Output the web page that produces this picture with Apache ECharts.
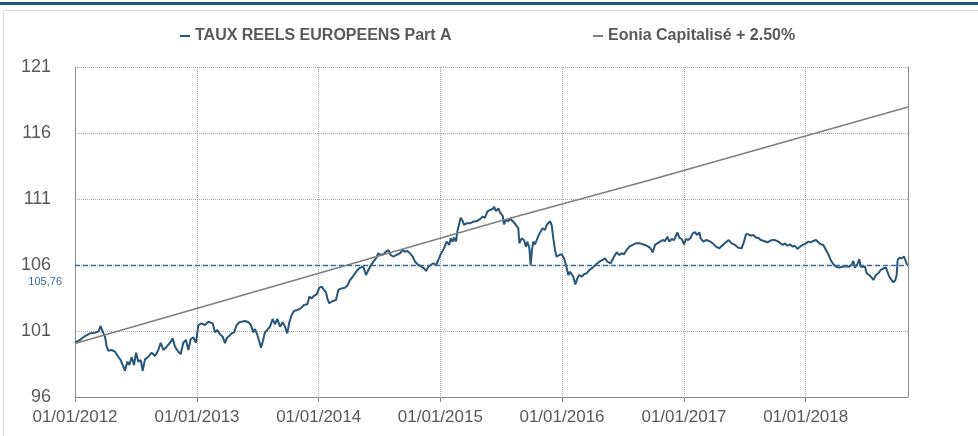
<!DOCTYPE html>
<html><head><meta charset="utf-8">
<script src="https://cdn.jsdelivr.net/npm/echarts@6/dist/echarts.min.js"></script>
<style>html,body{margin:0;padding:0;background:#fff}#c{width:978px;height:436px}</style>
</head><body><div id="c"></div>
<script>
// x = days since 01/01/2012, y = value
const startDate = Date.UTC(2012, 0, 1);
const endDay = 2499;
const seriesNames = ['TAUX REELS EUROPEENS Part A', 'Eonia Capitalisé + 2.50%'];
const refLevel = 105.76;
const yTicksMin = 95.76, yTicksMax = 120.76, yStep = 5;

const fund2012 = [[0,99.87],[15,100.08],[30,100.38],[45,100.58],[60,100.63],[70,100.71],[77,101.14],[83,100.71],[90,100.33],[95,99.57],[100,99.27],[110,99.32],[120,99.19],[130,98.81],[137,98.56],[143,98.51],[150,97.75],[157,98.44],[163,98.18],[170,98.76],[177,98.18],[183,99.12],[190,98.44],[197,98.56],[203,97.75],[210,98.61],[220,98.81],[230,99.12],[240,98.87],[250,99.32],[257,99.87],[265,99.32],[275,99.57],[285,99.87],[293,100.20],[300,99.57],[310,99.19],[317,99.02],[325,99.87],[333,100.08],[340,99.32],[347,100.13],[355,100.28],[363,99.87]];
const fund2013 = [[370,101.21],[380,101.34],[390,101.21],[400,101.46],[405,101.46],[413,101.34],[420,100.66],[427,100.84],[435,100.51],[443,100.33],[450,99.83],[455,100.20],[463,100.40],[470,100.58],[477,100.66],[485,101.21],[493,101.42],[500,101.46],[510,101.52],[520,101.42],[527,101.26],[535,100.66],[540,100.91],[547,100.46],[553,99.95],[558,99.50],[563,99.95],[570,100.66],[577,100.84],[585,101.09],[593,101.67],[600,101.26],[607,101.67],[615,101.09],[623,101.42],[630,101.09],[637,100.58],[643,101.42],[650,101.97],[657,102.28],[667,102.35],[677,102.48],[687,102.73],[697,102.78],[703,103.36],[710,103.23],[717,103.43],[725,103.54]];
const fund2014 = [[733,104.04],[740,104.12],[747,103.87],[753,103.69],[757,103.23],[763,102.86],[773,103.03],[783,103.11],[790,103.87],[800,103.99],[810,104.04],[817,104.19],[825,104.62],[833,104.87],[840,105.13],[847,105.38],[855,105.56],[865,105.63],[873,105.00],[880,105.38],[887,105.71],[895,106.01],[903,106.27],[910,106.65],[917,106.52],[925,106.57],[933,106.77],[940,106.90],[947,106.52],[955,106.39],[965,106.52],[975,106.65],[983,106.90],[990,106.77],[997,106.82],[1005,106.65],[1013,106.39],[1020,106.01],[1030,105.76],[1040,105.63],[1047,105.51],[1053,105.31],[1060,105.63],[1067,105.76],[1075,105.89],[1083,105.76],[1090,106.14]];
const fund2015 = [[1097,106.57],[1103,106.65],[1107,107.02],[1115,107.53],[1123,107.28],[1127,107.78],[1133,107.53],[1137,107.83],[1143,107.53],[1147,108.29],[1153,108.92],[1157,109.34],[1163,109.09],[1167,108.79],[1175,108.92],[1185,108.92],[1195,109.04],[1205,109.09],[1215,109.24],[1223,109.42],[1230,109.34],[1237,109.80],[1245,109.93],[1253,110.00],[1257,110.18],[1263,109.85],[1270,110.05],[1275,109.75],[1283,109.49],[1287,108.84],[1293,109.17],[1300,109.09],[1307,109.24],[1315,109.04],[1323,108.79],[1330,108.54],[1333,107.40],[1340,107.78],[1347,107.65],[1353,107.15],[1357,107.53],[1363,107.07],[1367,105.76],[1371,106.90],[1375,107.53],[1380,107.33],[1385,107.22],[1391,108.03],[1397,108.29],[1403,108.54],[1410,108.41],[1415,108.79],[1421,108.92],[1425,109.09],[1430,108.79],[1435,107.78],[1440,106.90],[1445,106.39],[1453,106.52]];
const fund2016 = [[1460,106.57],[1467,106.27],[1473,105.76],[1480,105.00],[1485,105.25],[1490,105.06],[1495,104.87],[1501,104.29],[1507,104.75],[1513,105.00],[1520,104.87],[1527,105.06],[1535,105.13],[1543,105.38],[1553,105.56],[1563,105.81],[1573,106.01],[1583,106.14],[1590,106.27],[1597,106.01],[1607,105.89],[1617,106.39],[1625,106.72],[1633,106.52],[1640,106.65],[1647,106.57],[1655,106.90],[1663,107.15],[1673,107.28],[1683,107.40],[1695,107.40],[1700,107.38],[1710,107.28],[1720,107.15],[1727,107.02],[1733,106.72],[1740,107.28],[1747,107.40],[1755,107.53],[1763,107.65],[1770,107.58],[1777,107.90],[1783,107.53],[1790,107.73],[1797,107.65],[1803,107.98],[1807,108.24],[1813,107.83]];
const fund2017 = [[1820,107.73],[1827,107.33],[1833,107.73],[1840,107.65],[1847,107.83],[1853,108.16],[1860,108.24],[1867,108.03],[1873,108.24],[1877,107.78],[1885,107.53],[1893,107.65],[1903,107.58],[1913,107.40],[1923,107.15],[1933,107.02],[1943,107.28],[1953,107.48],[1961,107.65],[1970,107.40],[1980,107.28],[1990,107.07],[2000,107.02],[2007,107.53],[2013,108.09],[2020,108.09],[2027,107.98],[2035,108.03],[2043,107.83],[2050,107.83],[2057,107.65],[2067,107.58],[2077,107.48],[2083,107.33],[2090,107.65],[2100,107.65],[2110,107.53],[2115,107.40],[2123,107.28],[2130,107.40],[2137,107.22],[2145,107.33],[2153,107.15],[2160,107.22],[2167,106.97],[2175,107.15],[2183,107.28]];
const fund2018 = [[2193,107.40],[2200,107.53],[2207,107.48],[2215,107.58],[2223,107.65],[2230,107.48],[2237,107.33],[2245,107.28],[2253,106.90],[2260,106.57],[2267,106.14],[2275,105.81],[2283,105.63],[2293,105.56],[2303,105.63],[2313,105.66],[2323,105.63],[2330,105.81],[2335,106.06],[2340,105.56],[2347,105.81],[2353,106.21],[2357,105.63],[2363,105.51],[2370,105.63],[2375,105.13],[2383,105.00],[2390,104.80],[2395,104.62],[2403,105.00],[2410,105.13],[2417,105.38],[2425,105.51],[2433,105.56],[2437,105.25],[2443,104.87],[2450,104.62],[2455,104.45],[2461,104.62],[2465,105.00],[2468,106.14],[2473,106.31],[2480,106.27],[2487,106.39],[2493,106.01],[2496,105.76]];

const eonia = [[0,99.81],[435,102.98],[825,105.81],[1275,109.09],[1725,112.20],[2499,117.73]];

const DAY = 86400000;
const toTime = p => [startDate + p[0] * DAY, p[1]];
const fundData = [].concat(fund2012, fund2013, fund2014, fund2015, fund2016, fund2017, fund2018).map(toTime);
const eoniaData = eonia.map(toTime);

const pad = n => (n < 10 ? '0' : '') + n;
const fmtDate = v => { const d = new Date(v); return pad(d.getUTCDate()) + '/' + pad(d.getUTCMonth() + 1) + '/' + d.getUTCFullYear(); };

const blue = '#27567b';
const grey = '#7f7f7f';
const txt = '#595959';
const font = 'Liberation Sans';

const chart = echarts.init(document.getElementById('c'));
chart.setOption({
  useUTC: true,
  animation: false,
  backgroundColor: '#ffffff',
  textStyle: { fontFamily: font },
  graphic: [
    { type: 'rect', z: -10, shape: { x: 3.5, y: 10.5, width: 980, height: 440 }, style: { fill: 'none', stroke: '#d9d9d9', lineWidth: 1 } },
    { type: 'rect', z: -10, shape: { x: 0, y: 2, width: 978, height: 3 }, style: { fill: '#1d5a74' } }
  ],
  legend: [
    { data: [seriesNames[0]], left: 175, top: 23, icon: 'rect', itemWidth: 10, itemHeight: 2, selectedMode: false,
      textStyle: { fontFamily: font, fontWeight: 'bold', fontSize: 16, color: txt } },
    { data: [seriesNames[1]], left: 588, top: 23, icon: 'rect', itemWidth: 10, itemHeight: 2, selectedMode: false,
      textStyle: { fontFamily: font, fontWeight: 'bold', fontSize: 16, color: txt } }
  ],
  grid: { left: 75, right: 70, top: 67, bottom: 39, containLabel: false },
  xAxis: {
    type: 'time',
    min: startDate, max: startDate + endDay * DAY,
    minInterval: 365 * DAY, maxInterval: 366 * DAY,
    axisLine: { show: true, lineStyle: { color: '#8c8c8c', width: 1 } },
    axisTick: { show: true, length: 5, lineStyle: { color: '#8c8c8c' } },
    axisLabel: { formatter: fmtDate, color: txt, fontSize: 17, fontFamily: font, margin: 12, showMaxLabel: false, hideOverlap: false },
    splitLine: { show: true, lineStyle: { color: '#a6a6a6', type: 'dotted', width: 1 } }
  },
  yAxis: [
    {
      type: 'value', min: yTicksMin, max: yTicksMax, interval: yStep,
      axisLine: { show: true, lineStyle: { color: '#8c8c8c', width: 1 } },
      axisTick: { show: false },
      axisLabel: { formatter: v => String(Math.round(v)), color: txt, fontSize: 18, fontFamily: font, margin: 24 },
      splitLine: { show: true, lineStyle: { color: '#a6a6a6', type: 'dotted', width: 1 } }
    },
    {
      type: 'value', position: 'right', min: yTicksMin, max: yTicksMax, interval: yStep,
      axisLine: { show: true, lineStyle: { color: '#8c8c8c', width: 1 } },
      axisTick: { show: false }, axisLabel: { show: false }, splitLine: { show: false }
    }
  ],
  series: [
    {
      name: seriesNames[0], type: 'line', data: fundData, showSymbol: false, symbol: 'none',
      lineStyle: { color: blue, width: 2 }, itemStyle: { color: blue }, z: 3,
      emphasis: { disabled: true },
      markLine: {
        silent: true, symbol: 'none', animation: false,
        lineStyle: { color: '#3a6b96', type: [5, 3], width: 1.3 },
        label: { position: 'start', formatter: '105,76', color: '#3a6b96', fontSize: 11, fontFamily: font, distance: 13, offset: [0, 17] },
        data: [{ yAxis: refLevel }]
      }
    },
    {
      name: seriesNames[1], type: 'line', data: eoniaData, showSymbol: false, symbol: 'none',
      lineStyle: { color: grey, width: 1.6 }, itemStyle: { color: grey }, z: 4,
      emphasis: { disabled: true }
    }
  ]
});
</script></body></html>
